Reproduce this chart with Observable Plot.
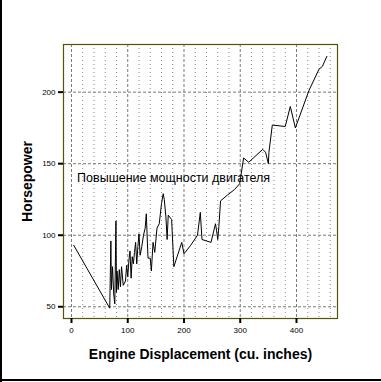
<!DOCTYPE html>
<html>
<head>
<meta charset="utf-8">
<script src="https://cdn.jsdelivr.net/npm/d3@7"></script>
<script src="https://cdn.jsdelivr.net/npm/@observablehq/plot@0.6"></script>
<style>
  html, body { margin: 0; padding: 0; background: #fff; }
  #wrap { position: relative; width: 381px; height: 382px; overflow: hidden; }
  #wrap::before { content: ""; position: absolute; left: 0; top: 0; width: 2px; height: 382px; background: #000; z-index: 2; }
  #wrap::after { content: ""; position: absolute; left: 0; bottom: 1px; width: 381px; height: 2px; background: #000; z-index: 2; }
  svg { display: block; }
</style>
</head>
<body>
<div id="wrap"></div>
<script>
const displacement = [4, 68, 70, 71, 73, 75, 77, 79, 80, 81, 83, 85, 87, 89, 92, 96, 98, 100, 102, 104, 106, 108, 110, 112, 114, 116, 118, 120, 122, 125, 128, 131, 133, 136, 140, 142, 145, 148, 152, 156, 160, 163, 165, 168, 170, 172, 178, 182, 196, 200, 212, 224, 229, 232, 248, 256, 258, 260, 262, 265, 277, 290, 299, 306, 315, 340, 345, 350, 351, 357, 380, 389, 398, 422, 440, 446, 454];
const horsepower   = [93, 49, 96, 62, 78, 59, 52, 110, 60, 75, 62, 76, 64, 78, 65, 68, 79, 71, 82, 89, 70, 85, 80, 88, 95, 80, 92, 101, 86, 92, 100, 105, 115, 84, 84, 75, 95, 88, 105, 108, 122, 129, 125, 112, 97, 114, 111, 78, 95, 87, 93, 100, 116, 97, 95, 108, 103, 97, 106, 124, 128, 132, 136, 154, 151, 160, 158, 150, 158, 177, 176, 190, 175, 201, 216, 218, 225];
const xTicks = [0, 100, 200, 300, 400];
const xMinorTicks = [20, 40, 60, 80, 120, 140, 160, 180, 220, 240, 260, 280, 320, 340, 360, 380, 420, 440, 460];
const yTicks = [50, 100, 150, 200];
const xTitle = "Engine Displacement (cu. inches)";
const yTitle = "Horsepower";
const annotation = "Повышение мощности двигателя";
const annotationAt = {x: 10, y: 140};

const rows = displacement.map((d, i) => ({displacement: d, horsepower: horsepower[i]}));

const chart = Plot.plot({
  width: 381,
  height: 382,
  marginLeft: 63,
  marginRight: 44,
  marginTop: 44,
  marginBottom: 64,
  style: {fontFamily: "'Liberation Sans', Arial, sans-serif", background: "transparent", color: "#000"},
  x: {domain: [-14.2, 472.9]},
  y: {domain: [41.8, 233.3]},
  marks: [
    Plot.gridX(xMinorTicks, {stroke: "#8a8a8a", strokeOpacity: 1, strokeDasharray: "1,3"}),
    Plot.gridX(xTicks, {stroke: "#7a7a7a", strokeOpacity: 1, strokeDasharray: "3,2"}),
    Plot.gridY(yTicks, {stroke: "#7a7a7a", strokeOpacity: 1, strokeDasharray: "3,2"}),
    Plot.frame({stroke: "#55550a", strokeWidth: 1.2}),
    Plot.axisX(xTicks, {tickSize: 5, strokeWidth: 2, fontSize: 8, tickPadding: 4, label: null}),
    Plot.axisY(yTicks, {tickSize: 5, strokeWidth: 2, fontSize: 8, tickPadding: 3, label: null}),
    Plot.line(rows, {x: "displacement", y: "horsepower", stroke: "#000", strokeWidth: 1}),
    Plot.text([annotation], {x: annotationAt.x, y: annotationAt.y, text: d => d, textAnchor: "start", lineAnchor: "middle", fontSize: 12.5, fill: "#000"}),
    Plot.text([xTitle], {frameAnchor: "bottom", text: d => d, dy: 36, textAnchor: "middle", lineAnchor: "middle", fontSize: 14, fontWeight: "bold", fill: "#000"}),
    Plot.text([yTitle], {frameAnchor: "left", text: d => d, dx: -36, rotate: -90, textAnchor: "middle", lineAnchor: "middle", fontSize: 14, fontWeight: "bold", fill: "#000"})
  ]
});
document.getElementById("wrap").appendChild(chart);
</script>
</body>
</html>
